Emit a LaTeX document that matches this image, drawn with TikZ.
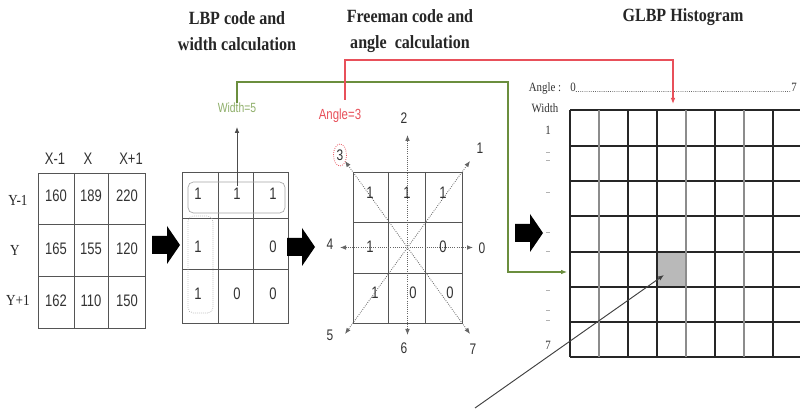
\documentclass[tikz,border=0pt]{standalone}
\usepackage{fontspec}
\setmainfont{Liberation Serif}
\newfontfamily\arialn[FakeStretch=0.78]{Liberation Sans}
\newfontfamily\timesn[FakeStretch=0.86]{Liberation Serif}
\usetikzlibrary{arrows.meta}
\definecolor{gline}{HTML}{6B8E3E}
\definecolor{wtext}{HTML}{8FAF6A}
\definecolor{rline}{HTML}{E8505A}
\definecolor{gridc}{HTML}{555555}
\begin{document}
\begin{tikzpicture}[x=0.75pt,y=-0.75pt,
  num/.style={font=\arialn\fontsize{12.5}{14}\selectfont, inner sep=0pt, text=black!80},
  slbl/.style={font=\timesn\fontsize{11.5}{13}\selectfont, inner sep=0pt, text=black!85},
  head/.style={font=\timesn\bfseries\fontsize{14}{19}\selectfont, align=center, text=black!85},
  dlbl/.style={font=\arialn\fontsize{11.5}{13}\selectfont, inner sep=0pt, text=black!80},
  hlbl/.style={font=\timesn\fontsize{9.5}{11}\selectfont, inner sep=0pt, text=black!80},
  tline/.style={draw=gridc, line width=0.6pt},
  farrow/.style={densely dotted, draw=black!60, line width=0.6pt},
  tip/.style={-{Latex[length=4.5pt,width=3.5pt]}},
  blockarrow/.pic={\fill[black] (0,-9) -- (15,-9) -- (15,-19) -- (28,0) -- (15,19) -- (15,9) -- (0,9) -- cycle;}
]
\useasboundingbox (0,0) rectangle (800,413);
\fill[white] (0,0) rectangle (800,413);

% headings
\node[head] (h1) at (237,31) {LBP code and\\width calculation};
\node[head] (h2) at (410,31) {Freeman code and\\angle\ \ calculation};
\node[head] (h3) at (683,17) {GLBP Histogram};

% ---------- table 1 ----------
\draw[tline] (38,173) rectangle (145,328);
\draw[tline] (74,173) -- (74,328) (108,173) -- (108,328);
\draw[tline] (38,224) -- (145,224) (38,276) -- (145,276);
\node[num] (cx1) at (55,159) {X-1};
\node[num] (cx2) at (88,159) {X};
\node[num] (cx3) at (131,159) {X+1};
\node[slbl] (ry1) at (18,200) {Y-1};
\node[slbl] (ry2) at (15,250) {Y};
\node[slbl] (ry3) at (18,300) {Y+1};
\node[num] (t11) at (56,196) {160};
\node[num] (t12) at (91,196) {189};
\node[num] (t13) at (127,196) {220};
\node[num] (t21) at (56,249) {165};
\node[num] (t22) at (91,249) {155};
\node[num] (t23) at (127,249) {120};
\node[num] (t31) at (56,301) {162};
\node[num] (t32) at (91,301) {110};
\node[num] (t33) at (127,301) {150};

\pic at (152,245) {blockarrow};

% ---------- LBP table ----------
\draw[tline] (182,172) rectangle (288,323);
\draw[tline] (218,172) -- (218,323) (253,172) -- (253,323);
\draw[tline] (182,218) -- (288,218) (182,269) -- (288,269);
\draw[gray!70, rounded corners=4pt, line width=0.5pt] (188,182) rectangle (285,213);
\draw[gray!70, rounded corners=4pt, line width=0.5pt, densely dotted] (188,216) rectangle (213,313);
\node[num] (l11) at (198,194) {1};
\node[num] (l12) at (237,194) {1};
\node[num] (l13) at (273,194) {1};
\node[num] (l21) at (198,247) {1};
\node[num] (l23) at (273,247) {0};
\node[num] (l31) at (198,294) {1};
\node[num] (l32) at (237,294) {0};
\node[num] (l33) at (273,294) {0};

\coordinate (lbpup) at (237,186);
\coordinate (wtip) at (237,127);
\draw[black!70, line width=0.6pt, tip] (lbpup) -- (wtip);
\node[font=\arialn\fontsize{10}{12}\selectfont, text=wtext, inner sep=0pt] (w5) at (237,108) {Width=5};

\pic at (287,247) {blockarrow};

% ---------- Freeman table ----------
\draw[tline] (353,172) rectangle (462,323);
\draw[tline] (388,172) -- (388,323) (425,172) -- (425,323);
\draw[tline] (353,222) -- (462,222) (353,273) -- (462,273);
\coordinate (fc) at (407.5,247.5);
\coordinate (f0) at (473,247.5);
\coordinate (f4) at (340,247.5);
\coordinate (f2) at (407.5,135);
\coordinate (f6) at (407.5,335);
\coordinate (f1) at (470,161);
\coordinate (f3) at (345,161);
\coordinate (f5) at (345,334);
\coordinate (f7) at (470,334);
\draw[farrow, {Latex[length=4.5pt,width=3.5pt]}-{Latex[length=4.5pt,width=3.5pt]}] (f4) -- (f0);
\draw[farrow, {Latex[length=4.5pt,width=3.5pt]}-{Latex[length=4.5pt,width=3.5pt]}] (f2) -- (f6);
\draw[farrow, {Latex[length=4.5pt,width=3.5pt]}-{Latex[length=4.5pt,width=3.5pt]}] (f3) -- (f7);
\draw[farrow, {Latex[length=4.5pt,width=3.5pt]}-{Latex[length=4.5pt,width=3.5pt]}] (f1) -- (f5);
\node[num] (g11) at (370,193) {1};
\node[num] (g12) at (407,193) {1};
\node[num] (g13) at (443,193) {1};
\node[num] (g21) at (370,247) {1};
\node[num] (g23) at (443,247) {0};
\node[num] (g31) at (375,293) {1};
\node[num] (g32) at (413,293) {0};
\node[num] (g33) at (450,293) {0};

\node[dlbl] (d0) at (482,248) {0};
\node[dlbl] (d1) at (480,148) {1};
\node[dlbl] (d2) at (404,118) {2};
\node[dlbl] (d3) at (340,155) {3};
\node[dlbl] (d4) at (330,244) {4};
\node[dlbl] (d5) at (330,335) {5};
\node[dlbl] (d6) at (404,348) {6};
\node[dlbl] (d7) at (473,349) {7};
\draw[rline, densely dotted, line width=0.6pt] (d3) ellipse (6.5 and 11);

\node[font=\arialn\fontsize{11}{12}\selectfont, text=rline, inner sep=0pt] (a3) at (340,116) {Angle=3};

\pic at (515,233) {blockarrow};

% ---------- histogram ----------
\fill[gray!55] (657,252) rectangle (686,287);
\foreach \yy in {110,146,181,216,252,287,322,357}
  \draw[black!85, line width=0.8pt] (570,\yy) -- (800,\yy);
\foreach \xx in {570,628,657,715,773}
  \draw[black!85, line width=0.8pt] (\xx,110) -- (\xx,357);
\foreach \xx in {599,686,744}
  \draw[black!45, line width=1.4pt] (\xx,110) -- (\xx,357);

\node[hlbl] (angl) at (545,88) {Angle :};
\node[hlbl] (a0) at (573,87) {0};
\node[hlbl] (a7) at (794,87) {7};
\draw[black!60, densely dotted, line width=0.6pt] (a0.south east) -- (a7.south west);
\node[hlbl] (wl) at (545,108) {Width};
\node[hlbl] (w1) at (548,130) {1};
\node[hlbl] (w7) at (548,345) {7};
\foreach \yy in {152,160,192,232,251,290,310,320}
  \draw[black!30, line width=0.5pt] (546,\yy) -- (550,\yy);

% connectors
\coordinate (g1) at (508,82);
\coordinate (gtip) at (567,272);
\draw[gline, line width=0.8pt, tip] (w5.north) |- (g1) |- (gtip);
\coordinate (rs) at (345,100);
\coordinate (r1) at (673,60);
\coordinate (rtip) at (673,104);
\draw[rline, line width=0.9pt, tip] (rs) |- (r1) -- (rtip);
\coordinate (pstart) at (475,408);
\coordinate (ptip) at (664,275);
\draw[black!75, line width=0.7pt, tip] (pstart) -- (ptip);
\end{tikzpicture}
\end{document}
